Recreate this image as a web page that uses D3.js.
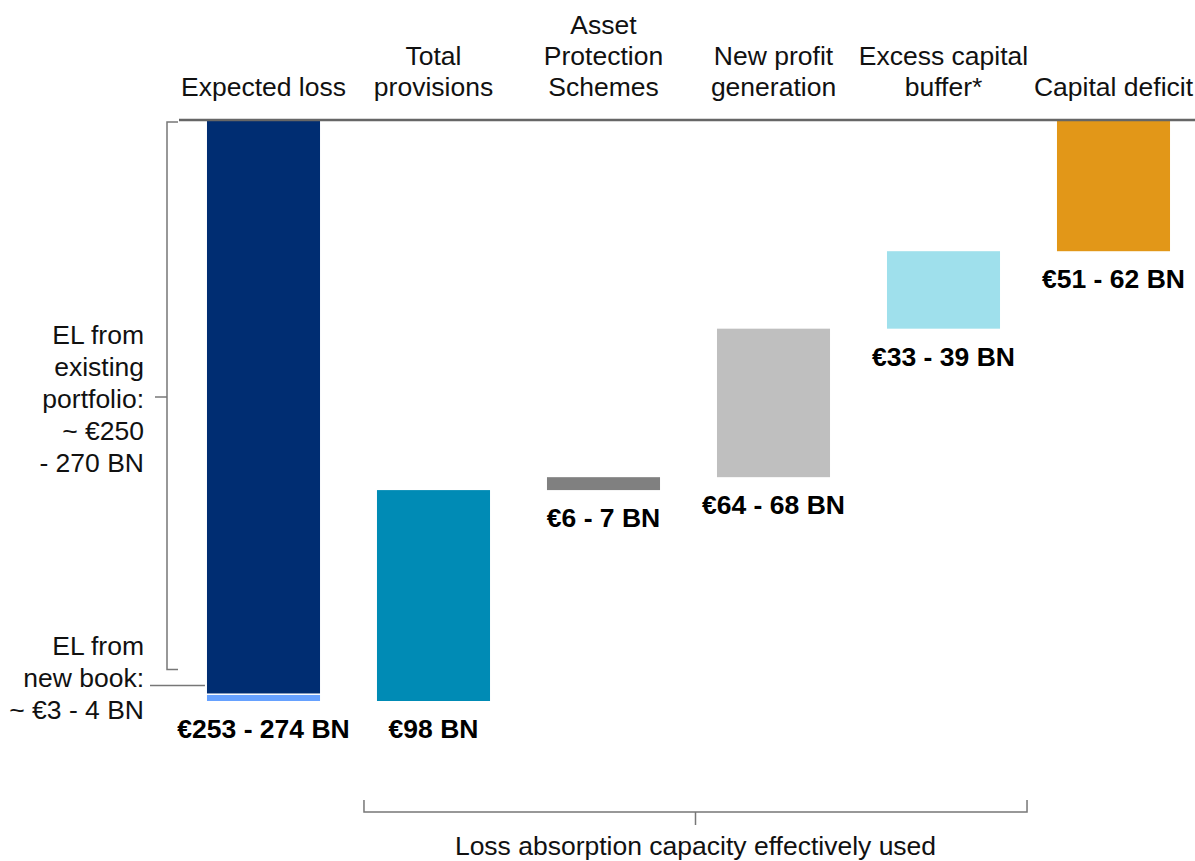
<!DOCTYPE html>
<html>
<head>
<meta charset="utf-8">
<script src="https://cdn.jsdelivr.net/npm/d3@7"></script>
<style>
  body { margin: 0; background: #fff; }
  text { font-family: "Liberation Sans", Arial, sans-serif; }
</style>
</head>
<body>
<div class="canvas"></div>
<script>
// chart data (EUR bn)
const categories = ['Expected loss', 'Total provisions', 'Asset Protection Schemes',
  'New profit generation', 'Excess capital buffer*', 'Capital deficit'];
const headerLines = [['Expected loss'], ['Total', 'provisions'], ['Asset', 'Protection', 'Schemes'],
  ['New profit', 'generation'], ['Excess capital', 'buffer*'], ['Capital deficit']];
const elExisting = 266;
const elNewBook = 3.5;
const steps = [98, 6, 69, 36, 60.5];   // provisions, APS, profit, buffer, deficit
const valueLabels = ['€253 - 274 BN', '€98 BN', '€6 - 7 BN', '€64 - 68 BN', '€33 - 39 BN', '€51 - 62 BN'];
const colors = ['#002d72', '#008bb5', '#808080', '#bfbfbf', '#9fe0ec', '#e29718'];
const newBookColor = '#66a1ff';
const existingNote = ['EL from', 'existing', 'portfolio:', '~ €250', '- 270 BN'];
const newBookNote = ['EL from', 'new book:', '~ €3 - 4 BN'];
const bottomNote = 'Loss absorption capacity effectively used';

const width = 1195, height = 861;
const fs = 26.5;
const svg = d3.select('.canvas')
  .append('svg')
    .attr('width', width)
    .attr('height', height);

const total = elExisting + elNewBook;
const y = d3.scaleLinear().domain([0, total]).range([121, 701]);
const x = d3.scaleBand()
  .domain(categories)
  .range([178.5, 1198.5])
  .paddingInner(0.335)
  .paddingOuter(0.1675);
const bw = x.bandwidth();

// waterfall bars: each step hangs down from the running level
let level = total;
const bars = steps.map((v, i) => {
  const d = {cat: categories[i + 1], top: level - v, bottom: level, fill: colors[i + 1]};
  level -= v;
  return d;
});

// expected loss stack
svg.append('rect')
  .attr('x', x(categories[0])).attr('width', bw)
  .attr('y', y(0)).attr('height', y(elExisting) - y(0))
  .attr('fill', colors[0]);
svg.append('rect')
  .attr('x', x(categories[0])).attr('width', bw)
  .attr('y', y(elExisting) + 1.5).attr('height', y(total) - y(elExisting) - 1.5)
  .attr('fill', newBookColor);

svg.selectAll('rect.step')
  .data(bars)
  .enter()
  .append('rect')
    .attr('class', 'step')
    .attr('x', d => x(d.cat))
    .attr('width', bw)
    .attr('y', d => y(d.top))
    .attr('height', d => y(d.bottom) - y(d.top))
    .attr('fill', d => d.fill);

// top baseline
svg.append('line')
  .attr('x1', 179).attr('x2', width)
  .attr('y1', y(0) - 1).attr('y2', y(0) - 1)
  .attr('stroke', '#666').attr('stroke-width', 2.5);

// header labels
const lh = 31;
headerLines.forEach((lines, i) => {
  const t = svg.append('text')
    .attr('text-anchor', 'middle')
    .attr('font-size', fs)
    .attr('fill', '#111');
  lines.forEach((s, j) => {
    t.append('tspan')
      .attr('x', x(categories[i]) + bw / 2)
      .attr('y', 96 - (lines.length - 1 - j) * lh)
      .text(s);
  });
});

// value labels under each bar
const bottoms = [total].concat(bars.map(d => d.bottom));
svg.selectAll('text.val')
  .data(valueLabels)
  .enter()
  .append('text')
    .attr('class', 'val')
    .attr('text-anchor', 'middle')
    .attr('font-size', fs)
    .attr('font-weight', 'bold')
    .attr('x', (d, i) => x(categories[i]) + bw / 2)
    .attr('y', (d, i) => y(bottoms[i]) + 37)
    .text(d => d);

// left bracket for existing portfolio
const bx = 167;
const bTop = y(0) + 1, bBot = y(elExisting) - 24;
svg.append('path')
  .attr('d', `M${bx + 11},${bTop} H${bx} V${bBot} H${bx + 11}`)
  .attr('fill', 'none').attr('stroke', '#777').attr('stroke-width', 1.5);
const bMid = 397;
svg.append('line')
  .attr('x1', bx - 12).attr('x2', bx)
  .attr('y1', bMid).attr('y2', bMid)
  .attr('stroke', '#777').attr('stroke-width', 1.5);

const note = (lines, firstBase) => {
  const t = svg.append('text')
    .attr('text-anchor', 'end')
    .attr('font-size', fs)
    .attr('fill', '#111');
  lines.forEach((s, j) => {
    t.append('tspan').attr('x', 144).attr('y', firstBase + j * 32).text(s);
  });
};
note(existingNote, 344);
note(newBookNote, 655);

// connector to the new book slice
svg.append('line')
  .attr('x1', 150).attr('x2', x(categories[0]) - 2)
  .attr('y1', y(elExisting) - 8).attr('y2', y(elExisting) - 8)
  .attr('stroke', '#777').attr('stroke-width', 1.5);

// bottom bracket
const lx = x(categories[1]) - 13, rx = x(categories[4]) + bw + 27, by = 812;
svg.append('path')
  .attr('d', `M${lx},${by - 12} V${by} H${rx} V${by - 12}`)
  .attr('fill', 'none').attr('stroke', '#777').attr('stroke-width', 1.5);
svg.append('line')
  .attr('x1', (lx + rx) / 2).attr('x2', (lx + rx) / 2)
  .attr('y1', by).attr('y2', by + 13)
  .attr('stroke', '#777').attr('stroke-width', 1.5);
svg.append('text')
  .attr('text-anchor', 'middle')
  .attr('font-size', fs)
  .attr('fill', '#111')
  .attr('x', (lx + rx) / 2)
  .attr('y', 855)
  .text(bottomNote);
</script>
</body>
</html>
